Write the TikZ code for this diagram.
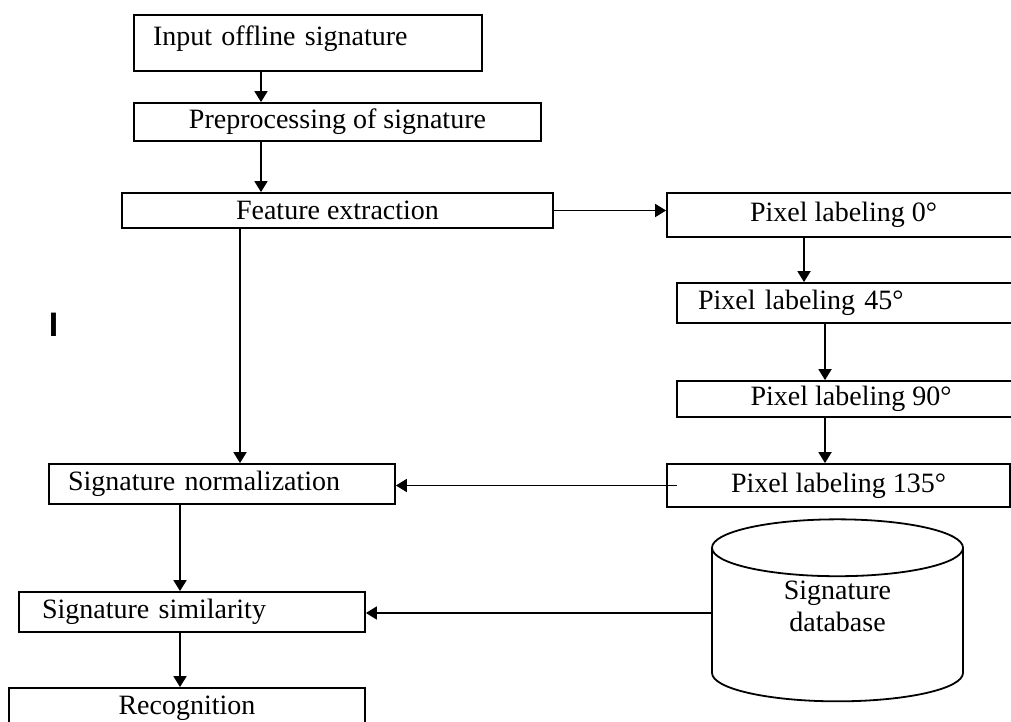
\documentclass[tikz,border=0pt]{standalone}
\usepackage{fontspec}
\setmainfont{Liberation Serif}
\newfontfamily\sansfont{Liberation Sans}
\usetikzlibrary{shapes.geometric, arrows.meta}

\tikzset{
    box/.style={draw, line width=1.8pt, inner sep=0pt, font=\fontsize{28}{32}\selectfont},
    leftbox/.style={box, align=left},
    arr/.style={line width=1.8pt, -{Triangle[length=11pt, width=13pt]}},
}

\begin{document}
\begin{tikzpicture}[x=1pt, y=-1pt]
    \useasboundingbox (0,0) rectangle (1011,722);

    % left column
    \node[leftbox, text width=310pt, inner xsep=19pt, minimum height=56pt, text depth=15pt] (input) at (308,43) {Input offline signature};
    \node[box, minimum width=407pt, minimum height=38pt] (pre) at (337.5,122) {Preprocessing of signature};
    \node[box, minimum width=431pt, minimum height=35pt] (feat) at (337.5,210.5) {Feature extraction};
    \node[leftbox, text width=308pt, inner xsep=19pt, minimum height=40pt] (norm) at (222,484) {Signature normalization};
    \node[leftbox, text width=300pt, inner xsep=23pt, minimum height=40pt] (sim) at (192,612) {Signature similarity};
    \node[box, minimum width=356pt, minimum height=40pt] (rec) at (187,708) {Recognition};

    % right column
    \node[box, minimum width=353pt, minimum height=44pt] (p0) at (843.5,215) {Pixel labeling 0°};
    \node[leftbox, text width=303pt, inner xsep=21pt, minimum height=40pt] (p45) at (849.5,303) {Pixel labeling 45°};
    \node[box, minimum width=348pt, minimum height=36pt] (p90) at (851,399) {Pixel labeling 90°};
    \node[box, minimum width=343pt, minimum height=43pt] (p135) at (838.5,485.5) {Pixel labeling 135°};

    % database
    \node[box, cylinder, shape border rotate=90, aspect=0.53, minimum width=251pt, minimum height=182pt, align=center, text depth=38pt] (db) at (837.5,625) {Signature\\database};

    % stray mark
    \node[font=\sansfont\bfseries\fontsize{34}{40}\selectfont] (mark) at (53.5,324.5) {I};

    % arrows
    \draw[arr] ([xshift=-47pt]input.south) -- ([xshift=-47pt]input.south |- pre.north);
    \draw[arr] ([xshift=-76.5pt]pre.south) -- ([xshift=-76.5pt]pre.south |- feat.north);
    \draw[arr] (feat.east) -- (feat.east -| p0.west);
    \draw[arr] ([xshift=-97.5pt]feat.south) -- ([xshift=-97.5pt]feat.south |- norm.north);
    \draw[arr] ([xshift=-39.5pt]p0.south) -- ([xshift=-39.5pt]p0.south |- p45.north);
    \draw[arr] ([xshift=-24.5pt]p45.south) -- ([xshift=-24.5pt]p45.south |- p90.north);
    \draw[arr] ([xshift=-26pt]p90.south) -- ([xshift=-26pt]p90.south |- p135.north);
    \draw[arr] ([xshift=11pt]p135.west) -- (p135.west -| norm.east);
    \draw[arr] ([xshift=-42pt]norm.south) -- ([xshift=-42pt]norm.south |- sim.north);
    \draw[arr] ([xshift=-12pt]sim.south) -- ([xshift=-12pt]sim.south |- rec.north);
    \draw[arr] ([yshift=12pt]db.west) -- ([yshift=12pt]db.west -| sim.east);
\end{tikzpicture}
\end{document}
